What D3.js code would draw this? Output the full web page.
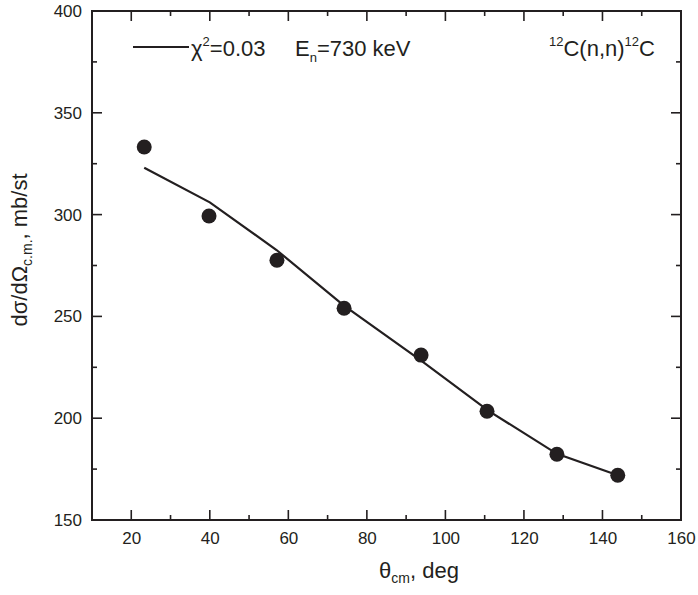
<!DOCTYPE html>
<html>
<head>
<meta charset="utf-8">
<script src="https://cdn.jsdelivr.net/npm/d3@7"></script>
<style>
  body { margin: 0; background: #fff; }
  svg text { font-family: "Liberation Sans", Arial, sans-serif; fill: #231f20; }
</style>
</head>
<body>
<svg id="chart"></svg>
<script>
// measured points (theta cm, deg) and cross section (mb/st)
var expTheta = [23.3, 39.8, 57.1, 74.2, 93.8, 110.6, 128.4, 143.9];
var expSigma = [333.2, 299.3, 277.6, 254, 231, 203.4, 182.3, 172];

// fitted curve
var fitTheta = [23.3, 40, 57, 74, 94, 111, 128.4, 143.9];
var fitSigma = [323, 306, 282.6, 255.5, 228, 203.6, 182.5, 172];

var xTicks = [20, 40, 60, 80, 100, 120, 140, 160];
var yTicks = [150, 200, 250, 300, 350, 400];

var width = 698, height = 595;
var plotL = 92, plotR = 681, plotT = 11, plotB = 520;
var ink = '#231f20';

var chart = d3.select('#chart')
	.attr('width', width)
	.attr('height', height);

var xScale = d3.scaleLinear().domain([10, 160]).range([plotL, plotR]);
var yScale = d3.scaleLinear().domain([150, 400]).range([plotB, plotT]);

// minor ticks, every 10 deg and every 25 mb/st
var xMinor = d3.range(20, 160, 10);
var yMinor = d3.range(175, 400, 25);

function tickLen(v, major) { return major.indexOf(v) >= 0 ? 10 : 5; }

// bottom axis labels
chart.append('g')
	.attr('transform', 'translate(0,' + plotB + ')')
	.call(d3.axisBottom(xScale).tickValues(xTicks).tickSize(0).tickPadding(12))
	.call(function(g) {
		g.select('.domain').remove();
		g.selectAll('text').style('font-size', '17px').attr('fill', ink);
	});

// left axis labels
chart.append('g')
	.attr('transform', 'translate(' + plotL + ',0)')
	.call(d3.axisLeft(yScale).tickValues(yTicks).tickSize(0).tickPadding(10))
	.call(function(g) {
		g.select('.domain').remove();
		g.selectAll('text').style('font-size', '17px').attr('fill', ink);
	});

// inward ticks on all four sides
var ticks = chart.append('g').attr('stroke', ink).attr('stroke-width', 1.6);
xMinor.forEach(function(v) {
	var len = tickLen(v, xTicks);
	ticks.append('line').attr('x1', xScale(v)).attr('x2', xScale(v))
		.attr('y1', plotB).attr('y2', plotB - len);
	ticks.append('line').attr('x1', xScale(v)).attr('x2', xScale(v))
		.attr('y1', plotT).attr('y2', plotT + len);
});
yMinor.forEach(function(v) {
	var len = tickLen(v, yTicks);
	ticks.append('line').attr('y1', yScale(v)).attr('y2', yScale(v))
		.attr('x1', plotL).attr('x2', plotL + len);
	ticks.append('line').attr('y1', yScale(v)).attr('y2', yScale(v))
		.attr('x1', plotR).attr('x2', plotR - len);
});

// frame
chart.append('rect')
	.attr('x', plotL).attr('y', plotT)
	.attr('width', plotR - plotL).attr('height', plotB - plotT)
	.attr('fill', 'none').attr('stroke', ink).attr('stroke-width', 2);

// fit line
var fitData = fitTheta.map(function(t, i) { return [t, fitSigma[i]]; });
chart.append('path')
	.datum(fitData)
	.attr('fill', 'none')
	.attr('stroke', ink)
	.attr('stroke-width', 2.2)
	.attr('d', d3.line()
		.x(function(d) { return xScale(d[0]); })
		.y(function(d) { return yScale(d[1]); }));

// data points
chart.selectAll('.dot')
	.data(expTheta.map(function(t, i) { return [t, expSigma[i]]; }))
	.enter().append('circle')
		.attr('class', 'dot')
		.attr('cx', function(d) { return xScale(d[0]); })
		.attr('cy', function(d) { return yScale(d[1]); })
		.attr('r', 7.5)
		.attr('fill', ink);

// legend
chart.append('line')
	.attr('x1', 133).attr('x2', 189).attr('y1', 47).attr('y2', 47)
	.attr('stroke', ink).attr('stroke-width', 2.2);

var leg = chart.append('text').attr('x', 191).attr('y', 56).style('font-size', '22px');
leg.append('tspan').text('χ');
leg.append('tspan').attr('dy', -10).style('font-size', '13px').text('2');
leg.append('tspan').attr('dy', 10).text('=0.03');

var en = chart.append('text').attr('x', 295).attr('y', 56).style('font-size', '22px');
en.append('tspan').text('E');
en.append('tspan').attr('dy', 6).style('font-size', '13px').text('n');
en.append('tspan').attr('dy', -6).text('=730 keV');

var reac = chart.append('text').attr('x', 549).attr('y', 56).style('font-size', '22px');
reac.append('tspan').attr('dy', -10).style('font-size', '13px').text('12');
reac.append('tspan').attr('dy', 10).text('C(n,n)');
reac.append('tspan').attr('dy', -10).style('font-size', '13px').text('12');
reac.append('tspan').attr('dy', 10).text('C');

// axis titles
var xt = chart.append('text').attr('x', 419).attr('y', 578)
	.attr('text-anchor', 'middle').style('font-size', '22px');
xt.append('tspan').text('θ');
xt.append('tspan').attr('dy', 5).style('font-size', '14px').text('cm');
xt.append('tspan').attr('dy', -5).text(', deg');

var yt = chart.append('text')
	.attr('transform', 'translate(27,250) rotate(-90)')
	.attr('text-anchor', 'middle').style('font-size', '22px');
yt.append('tspan').text('dσ/dΩ');
yt.append('tspan').attr('dy', 5).style('font-size', '14px').text('c.m.');
yt.append('tspan').attr('dy', -5).text(', mb/st');
</script>
</body>
</html>
